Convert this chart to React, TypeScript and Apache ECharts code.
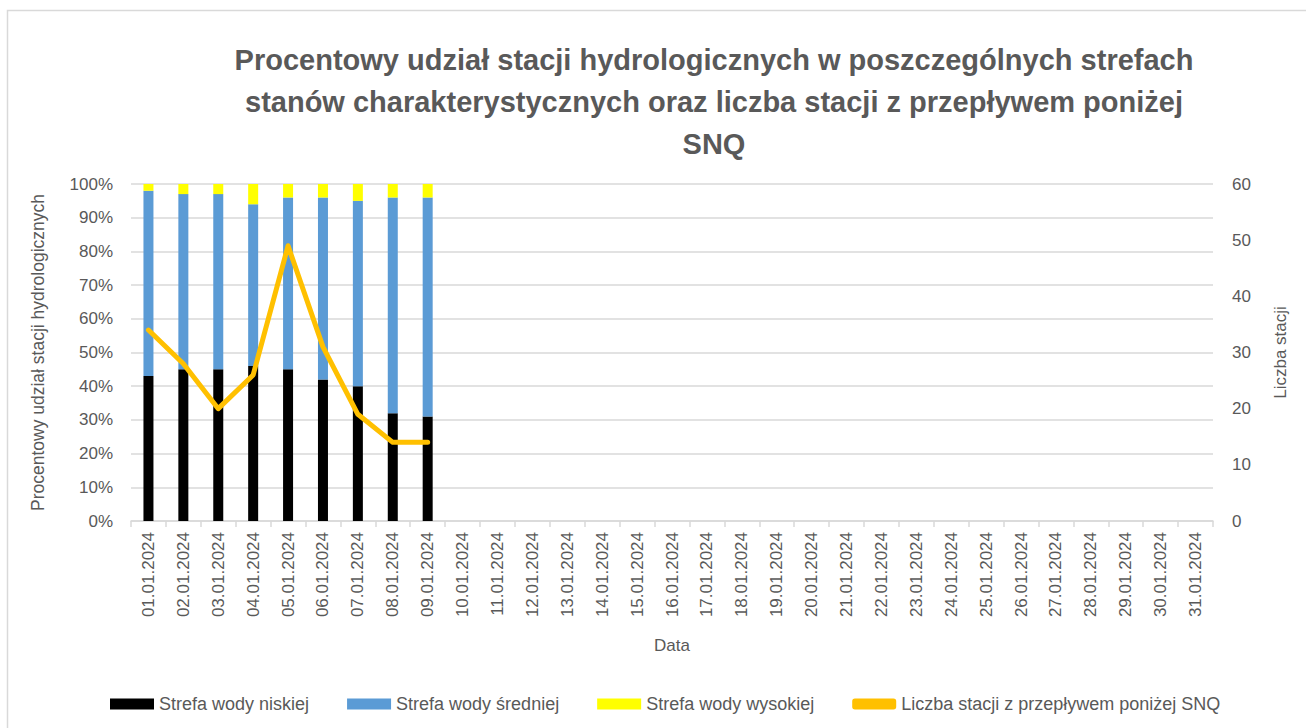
import React, { useEffect, useRef } from "react";
import * as echarts from "echarts";

const categories = [
  "01.01.2024", "02.01.2024", "03.01.2024", "04.01.2024", "05.01.2024", "06.01.2024",
  "07.01.2024", "08.01.2024", "09.01.2024", "10.01.2024", "11.01.2024", "12.01.2024",
  "13.01.2024", "14.01.2024", "15.01.2024", "16.01.2024", "17.01.2024", "18.01.2024",
  "19.01.2024", "20.01.2024", "21.01.2024", "22.01.2024", "23.01.2024", "24.01.2024",
  "25.01.2024", "26.01.2024", "27.01.2024", "28.01.2024", "29.01.2024", "30.01.2024",
  "31.01.2024",
];

const lowZone = [43, 45, 45, 46, 45, 42, 40, 32, 31];
const midZone = [55, 52, 52, 48, 51, 54, 55, 64, 65];
const highZone = [2, 3, 3, 6, 4, 4, 5, 4, 4];
const stationsBelowSNQ = [34, 28, 20, 26, 49, 31, 19, 14, 14];

const seriesNames = [
  "Strefa wody niskiej",
  "Strefa wody średniej",
  "Strefa wody wysokiej",
  "Liczba stacji z przepływem poniżej SNQ",
];

const titleText =
  "Procentowy udział stacji hydrologicznych w poszczególnych strefach\nstanów charakterystycznych oraz liczba stacji z przepływem poniżej\nSNQ";

const pad = (arr: number[]) =>
  categories.map((_, i) => (i < arr.length ? arr[i] : null));

const FONT = "'Liberation Sans', Arial, sans-serif";
const GRAY = "#595959";

export default function App() {
  const ref = useRef<HTMLDivElement>(null);

  useEffect(() => {
    if (!ref.current) return;
    const chart = echarts.init(ref.current, undefined, { renderer: "svg" });
    chart.setOption({
      animation: false,
      backgroundColor: "#ffffff",
      textStyle: { fontFamily: FONT, color: GRAY },
      graphic: [
        {
          type: "rect",
          shape: { x: 7.5, y: 10.5, width: 1400, height: 800 },
          style: { fill: "none", stroke: "#d9d9d9", lineWidth: 1.5 },
          silent: true,
        },
      ],
      title: {
        text: titleText,
        left: 709,
        top: 34,
        textAlign: "center",
        textStyle: {
          fontFamily: FONT,
          fontWeight: "bold",
          fontSize: 29,
          lineHeight: 42,
          color: GRAY,
        },
      },
      legend: {
        left: 105,
        top: 690,
        itemWidth: 44,
        itemHeight: 11,
        itemGap: 38,
        textStyle: { fontFamily: FONT, fontSize: 18, color: GRAY },
        data: [
          { name: seriesNames[0], icon: "rect" },
          { name: seriesNames[1], icon: "rect" },
          { name: seriesNames[2], icon: "rect" },
          { name: seriesNames[3], icon: "roundRect", itemStyle: { color: "#FFC000" } },
        ],
      },
      grid: { left: 131, right: 93, top: 184, bottom: 207 },
      xAxis: {
        type: "category",
        data: categories,
        boundaryGap: true,
        name: "Data",
        nameLocation: "middle",
        nameGap: 116,
        nameTextStyle: { fontFamily: FONT, fontSize: 17, color: GRAY },
        axisLine: { lineStyle: { color: "#d9d9d9", width: 1.5 } },
        axisTick: { show: true, length: 6, alignWithLabel: false, interval: 0, lineStyle: { color: "#d9d9d9", width: 1.5 } },
        axisLabel: {
          rotate: 90,
          interval: 0,
          margin: 11,
          fontFamily: FONT,
          fontSize: 17,
          color: GRAY,
        },
      },
      yAxis: [
        {
          type: "value",
          min: 0,
          max: 100,
          interval: 10,
          name: "Procentowy udział stacji hydrologicznych",
          nameLocation: "middle",
          nameGap: 84,
          nameRotate: 90,
          nameTextStyle: { fontFamily: FONT, fontSize: 17.5, color: GRAY },
          axisLine: { show: false },
          axisTick: { show: false },
          axisLabel: {
            formatter: "{value}%",
            margin: 18,
            fontFamily: FONT,
            fontSize: 17,
            color: GRAY,
          },
          splitLine: { show: true, lineStyle: { color: "#d9d9d9", width: 1.5 } },
        },
        {
          type: "value",
          min: 0,
          max: 60,
          interval: 10,
          position: "right",
          name: "Liczba stacji",
          nameLocation: "middle",
          nameGap: 59,
          nameRotate: 90,
          nameTextStyle: { fontFamily: FONT, fontSize: 17, color: GRAY },
          axisLine: { show: false },
          axisTick: { show: false },
          axisLabel: {
            margin: 19,
            fontFamily: FONT,
            fontSize: 17,
            color: GRAY,
          },
          splitLine: { show: false },
        },
      ],
      series: [
        {
          name: seriesNames[0],
          type: "bar",
          stack: "zones",
          barWidth: 10,
          yAxisIndex: 0,
          itemStyle: { color: "#000000" },
          data: pad(lowZone),
        },
        {
          name: seriesNames[1],
          type: "bar",
          stack: "zones",
          barWidth: 10,
          yAxisIndex: 0,
          itemStyle: { color: "#5B9BD5" },
          data: pad(midZone),
        },
        {
          name: seriesNames[2],
          type: "bar",
          stack: "zones",
          barWidth: 10,
          yAxisIndex: 0,
          itemStyle: { color: "#FFFF00" },
          data: pad(highZone),
        },
        {
          name: seriesNames[3],
          type: "line",
          yAxisIndex: 1,
          showSymbol: false,
          symbol: "none",
          connectNulls: false,
          itemStyle: { color: "#FFC000" },
          lineStyle: { color: "#FFC000", width: 5, cap: "round", join: "round" },
          data: pad(stationsBelowSNQ),
        },
      ],
    });
    return () => chart.dispose();
  }, []);

  return (
    <div
      ref={ref}
      style={{ position: "fixed", left: 0, top: 0, width: 1306, height: 728 }}
    />
  );
}
